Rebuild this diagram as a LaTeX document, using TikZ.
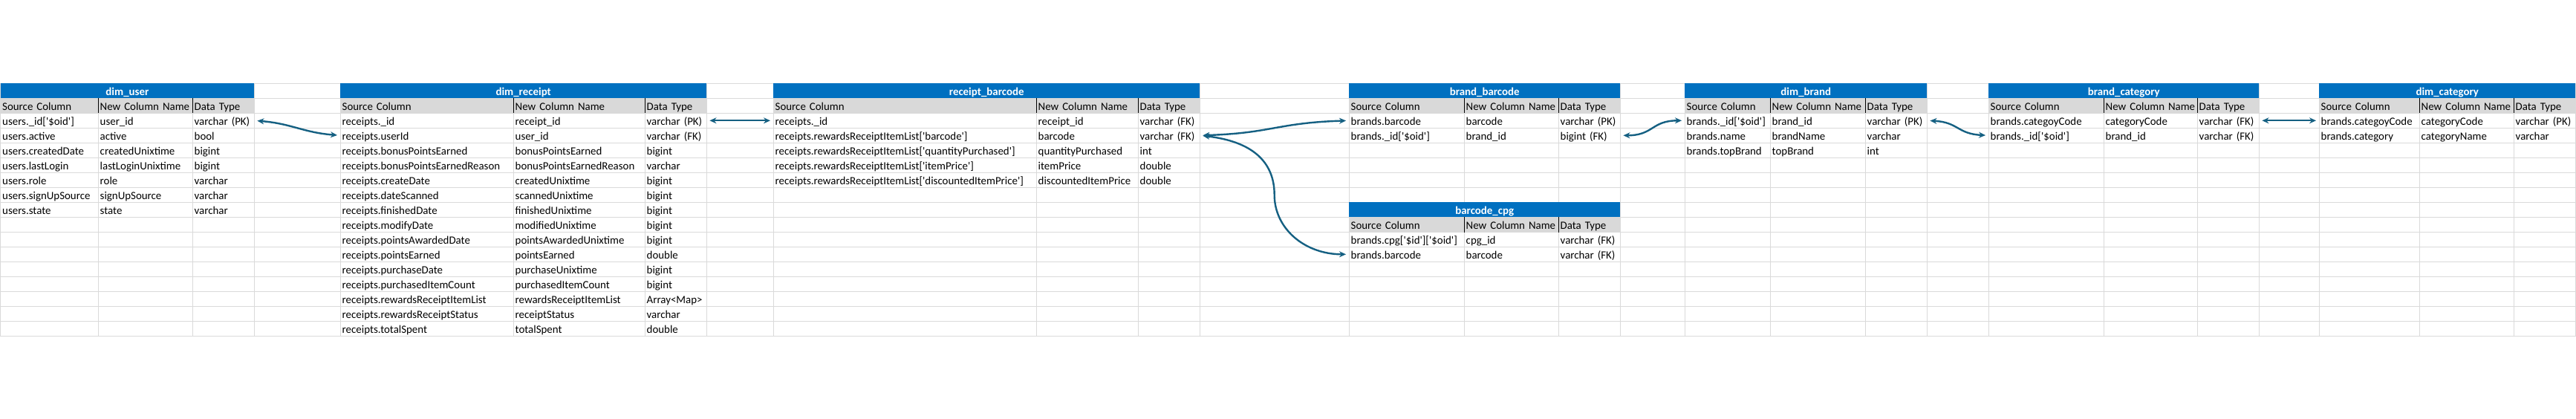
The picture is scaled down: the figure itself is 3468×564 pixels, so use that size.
\documentclass[tikz,border=0pt]{standalone}
\usepackage{fontspec}
\setmainfont{Carlito}[Ligatures=TeXOff]
\usetikzlibrary{arrows.meta,calc}

\definecolor{sheetblue}{HTML}{0070C0}
\definecolor{headgray}{HTML}{D9D9D9}
\definecolor{gridgray}{HTML}{DADADA}
\definecolor{linkblue}{HTML}{156082}

\begin{document}
\begin{tikzpicture}[x=1pt, y=-1pt,
  font=\fontsize{14.9}{17}\selectfont,
  cell/.style={anchor=west, inner xsep=2.5pt, inner ysep=0pt, minimum height=20pt,
    text height=13pt, text depth=1pt, text width=#1, align=left},
  head/.style={cell=#1, fill=headgray},
  title/.style={anchor=west, fill=sheetblue, text=white, font=\fontsize{14.9}{17}\selectfont\bfseries,
    inner sep=0pt, minimum height=20pt, text height=13pt, text depth=1pt, minimum width=#1},
  link/.style={linkblue, line width=2.4pt, {Stealth[length=9pt,width=8pt]}-{Stealth[length=9pt,width=8pt]},
    shorten <=4pt, shorten >=4pt}]
  \useasboundingbox (0,0) rectangle (3468,564);

  % sheet grid
  \foreach \k in {0,...,17}
    \draw[gridgray, line width=1pt] (0,112.3+20*\k) -- (3468,112.3+20*\k);
  \foreach \x in {0.5,132,259,342,458,691,868,951,1041,1395,1532,1615,1816,1971,2098,2181,
                  2268,2383,2511,2594,2677,2832,2958,3041,3122,3257,3384,3467}
    \draw[gridgray, line width=1pt] (\x,112.3) -- (\x,452.3);

  % table titles and column heads
  \foreach \tab/\tname/\xa/\xb/\xc/\xd/\row in {user/dim\_user/0.5/132/259/342/0,
      receipt/dim\_receipt/458/691/868/951/0, rbar/receipt\_barcode/1041/1395/1532/1615/0,
      bbar/brand\_barcode/1816/1971/2098/2181/0, cpg/barcode\_cpg/1816/1971/2098/2181/8,
      brand/dim\_brand/2268/2383/2511/2594/0, bcat/brand\_category/2677/2832/2958/3041/0,
      cat/dim\_category/3122/3257/3384/3467/0}{
    \pgfmathsetmacro\wa{\xb-\xa-5}
    \pgfmathsetmacro\wb{\xc-\xb-5}
    \pgfmathsetmacro\wc{\xd-\xc-5}
    \pgfmathsetmacro\yt{122.3+20*\row}
    \node[title=\xd-\xa] (\tab) at (\xa,\yt) {\tname};
    \node[head=\wa pt] (\tab-h-a) at (\xa,\yt+20) {\mbox{Source Column}};
    \node[head=\wb pt] (\tab-h-b) at (\xb,\yt+20) {\mbox{New Column Name}};
    \node[head=\wc pt] (\tab-h-c) at (\xc,\yt+20) {\mbox{Data Type}};
    \draw[line width=1pt] (\tab-h-b.north west) -- (\tab-h-b.south west)
                          (\tab-h-c.north west) -- (\tab-h-c.south west);
  }

  % dim_user
  \foreach \src/\new/\typ [count=\k from 2] in {users.\_id['\$oid']/user\_id/varchar (PK),
      users.active/active/bool, users.createdDate/createdUnixtime/bigint,
      users.lastLogin/lastLoginUnixtime/bigint, users.role/role/varchar,
      users.signUpSource/signUpSource/varchar, users.state/state/varchar}{
    \node[cell=126.5pt] (user-\k-a) at (0.5,122.3+20*\k) {\mbox{\src}};
    \node[cell=122pt] (user-\k-b) at (132,122.3+20*\k) {\mbox{\new}};
    \node[cell=78pt] (user-\k-c) at (259,122.3+20*\k) {\mbox{\typ}};
  }

  % dim_receipt
  \foreach \src/\new/\typ [count=\k from 2] in {receipts.\_id/receipt\_id/varchar (PK),
      receipts.userId/user\_id/varchar (FK),
      receipts.bonusPointsEarned/bonusPointsEarned/bigint,
      receipts.bonusPointsEarnedReason/bonusPointsEarnedReason/varchar,
      receipts.createDate/createdUnixtime/bigint,
      receipts.dateScanned/scannedUnixtime/bigint,
      receipts.finishedDate/finishedUnixtime/bigint,
      receipts.modifyDate/modifiedUnixtime/bigint,
      receipts.pointsAwardedDate/pointsAwardedUnixtime/bigint,
      receipts.pointsEarned/pointsEarned/double,
      receipts.purchaseDate/purchaseUnixtime/bigint,
      receipts.purchasedItemCount/purchasedItemCount/bigint,
      receipts.rewardsReceiptItemList/rewardsReceiptItemList/Array<Map>,
      receipts.rewardsReceiptStatus/receiptStatus/varchar,
      receipts.totalSpent/totalSpent/double}{
    \node[cell=228pt] (receipt-\k-a) at (458,122.3+20*\k) {\mbox{\src}};
    \node[cell=172pt] (receipt-\k-b) at (691,122.3+20*\k) {\mbox{\new}};
    \node[cell=78pt] (receipt-\k-c) at (868,122.3+20*\k) {\mbox{\typ}};
  }

  % receipt_barcode
  \foreach \src/\new/\typ [count=\k from 2] in {receipts.\_id/receipt\_id/varchar (FK),
      receipts.rewardsReceiptItemList['barcode']/barcode/varchar (FK),
      receipts.rewardsReceiptItemList['quantityPurchased']/quantityPurchased/int,
      receipts.rewardsReceiptItemList['itemPrice']/itemPrice/double,
      receipts.rewardsReceiptItemList['discountedItemPrice']/discountedItemPrice/double}{
    \node[cell=349pt] (rbar-\k-a) at (1041,122.3+20*\k) {\mbox{\src}};
    \node[cell=132pt] (rbar-\k-b) at (1395,122.3+20*\k) {\mbox{\new}};
    \node[cell=78pt] (rbar-\k-c) at (1532,122.3+20*\k) {\mbox{\typ}};
  }

  % brand_barcode
  \foreach \src/\new/\typ [count=\k from 2] in {brands.barcode/barcode/varchar (PK),
      brands.\_id['\$oid']/brand\_id/bigint (FK)}{
    \node[cell=150pt] (bbar-\k-a) at (1816,122.3+20*\k) {\mbox{\src}};
    \node[cell=122pt] (bbar-\k-b) at (1971,122.3+20*\k) {\mbox{\new}};
    \node[cell=78pt] (bbar-\k-c) at (2098,122.3+20*\k) {\mbox{\typ}};
  }

  % barcode_cpg
  \foreach \src/\new/\typ [count=\k from 10] in {brands.cpg['\$id']['\$oid']/cpg\_id/varchar (FK),
      brands.barcode/barcode/varchar (FK)}{
    \node[cell=150pt] (cpg-\k-a) at (1816,122.3+20*\k) {\mbox{\src}};
    \node[cell=122pt] (cpg-\k-b) at (1971,122.3+20*\k) {\mbox{\new}};
    \node[cell=78pt] (cpg-\k-c) at (2098,122.3+20*\k) {\mbox{\typ}};
  }

  % dim_brand
  \foreach \src/\new/\typ [count=\k from 2] in {brands.\_id['\$oid']/brand\_id/varchar (PK),
      brands.name/brandName/varchar, brands.topBrand/topBrand/int}{
    \node[cell=110pt] (brand-\k-a) at (2268,122.3+20*\k) {\mbox{\src}};
    \node[cell=123pt] (brand-\k-b) at (2383,122.3+20*\k) {\mbox{\new}};
    \node[cell=78pt] (brand-\k-c) at (2511,122.3+20*\k) {\mbox{\typ}};
  }

  % brand_category
  \foreach \src/\new/\typ [count=\k from 2] in {brands.categoyCode/categoryCode/varchar (FK),
      brands.\_id['\$oid']/brand\_id/varchar (FK)}{
    \node[cell=150pt] (bcat-\k-a) at (2677,122.3+20*\k) {\mbox{\src}};
    \node[cell=121pt] (bcat-\k-b) at (2832,122.3+20*\k) {\mbox{\new}};
    \node[cell=78pt] (bcat-\k-c) at (2958,122.3+20*\k) {\mbox{\typ}};
  }

  % dim_category
  \foreach \src/\new/\typ [count=\k from 2] in {brands.categoyCode/categoryCode/varchar (PK),
      brands.category/categoryName/varchar}{
    \node[cell=130pt] (cat-\k-a) at (3122,122.3+20*\k) {\mbox{\src}};
    \node[cell=122pt] (cat-\k-b) at (3257,122.3+20*\k) {\mbox{\new}};
    \node[cell=78pt] (cat-\k-c) at (3384,122.3+20*\k) {\mbox{\typ}};
  }

  % links between keys
  \draw[link] (user-2-c.east) .. controls +(50,4) and +(-50,-4) .. (receipt-3-a.west);
  \draw[link] (receipt-2-c.east) -- (rbar-2-a.west);
  \draw[link] (rbar-3-c.east) .. controls +(97,-3) and +(-97,3) .. (bbar-2-a.west);
  \draw[link] (rbar-3-c.east) .. controls +(70,8) and +(0,-45) .. ($(rbar-3-c.east)!.5!(cpg-11-a.west)$)
    .. controls +(0,45) and +(-60,0) .. (cpg-11-a.west);
  \draw[link] (bbar-3-c.east) .. controls +(45,0) and +(-45,0) .. (brand-2-a.west);
  \draw[link] (brand-2-c.east) .. controls +(42,2) and +(-42,-2) .. (bcat-3-a.west);
  \draw[link] (bcat-2-c.east) -- (cat-2-a.west);
\end{tikzpicture}
\end{document}
